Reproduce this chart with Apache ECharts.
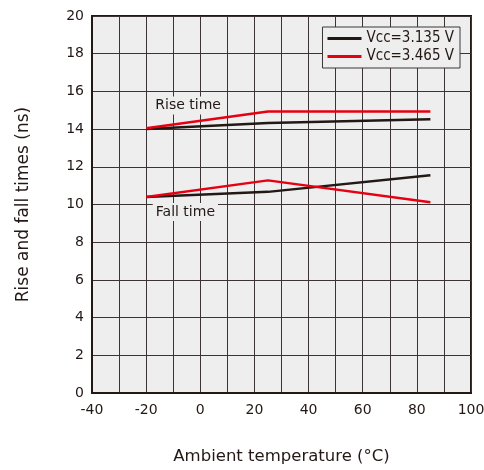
<!DOCTYPE html>
<html><head><meta charset="utf-8">
<script src="https://cdn.jsdelivr.net/npm/echarts@6/dist/echarts.min.js"></script>
<style>html,body{margin:0;padding:0;background:#fff}#c{width:484px;height:470px}</style>
</head><body><div id="c"></div>
<script>
const temps = [-20, 25, 85];
const riseLow = [14.0, 14.33, 14.52];
const riseHigh = [14.05, 14.93, 14.93];
const fallLow = [10.4, 10.67, 11.55];
const fallHigh = [10.4, 11.28, 10.12];
const seriesNames = ['Vcc=3.135 V', 'Vcc=3.465 V'];
const colors = ['#231815', '#e60012'];
const annotations = [
  {text: 'Rise time', x: -4.5, y: 15.25},
  {text: 'Fall time', x: -5.5, y: 9.6}
];
const FONT = 'DejaVu Sans';
const BG = '#eeeeee';
const zip = (xs, ys) => xs.map((x, i) => [x, ys[i]]);

function lineSeries(name, data, color, withMarks) {
  const s = {
    name, type: 'line', data, showSymbol: false, symbol: 'none',
    lineStyle: {color, width: 2.5}, itemStyle: {color}, z: 5,
    emphasis: {disabled: true}
  };
  if (withMarks) {
    s.markPoint = {
      symbol: 'rect', symbolSize: 1, itemStyle: {color: 'rgba(0,0,0,0)'},
      data: annotations.map(a => ({
        coord: [a.x, a.y],
        label: {show: true, position: 'inside', formatter: a.text, color: '#231815',
          fontFamily: FONT, fontSize: 14, backgroundColor: BG, padding: [2, 3]}
      })),
      z: 3
    };
  }
  return s;
}

const chart = echarts.init(document.getElementById('c'), null, {renderer: 'canvas'});
chart.setOption({
  animation: false,
  backgroundColor: '#fff',
  grid: {left: 92, right: 13, top: 16, bottom: 77, show: true, backgroundColor: BG,
    borderColor: '#231815', borderWidth: 2, containLabel: false, outerBoundsMode: 'none'},
  legend: {
    data: seriesNames, orient: 'vertical', right: 24, top: 27,
    backgroundColor: BG, borderColor: '#3a3636', borderWidth: 1,
    padding: [4, 6, 4, 5], itemGap: 3, itemWidth: 34, itemHeight: 12,
    textStyle: {fontFamily: 'DejaVu Sans Condensed', fontSize: 15, color: '#231815'},
    icon: 'path://M0,4.5 L34,4.5 L34,7.5 L0,7.5 Z'
  },
  xAxis: {
    type: 'value', min: -40, max: 100, interval: 10,
    name: 'Ambient temperature (°C)', nameLocation: 'middle', nameGap: 55,
    nameTextStyle: {fontFamily: FONT, fontSize: 16.5, color: '#231815'},
    axisLine: {show: true, onZero: false, lineStyle: {color: '#231815', width: 2}},
    axisTick: {show: false},
    axisLabel: {interval: 1, fontFamily: FONT, fontSize: 14, color: '#231815', margin: 10,
      formatter: v => (v % 20 === 0 ? String(v) : '')},
    splitLine: {show: true, lineStyle: {color: '#3c3434', width: 1}}
  },
  yAxis: {
    type: 'value', min: 0, max: 20, interval: 2,
    name: 'Rise and fall times (ns)', nameLocation: 'middle', nameGap: 60,
    nameTextStyle: {fontFamily: FONT, fontSize: 17, color: '#231815'},
    axisLine: {show: true, onZero: false, lineStyle: {color: '#231815', width: 2}},
    axisTick: {show: false},
    axisLabel: {fontFamily: FONT, fontSize: 14, color: '#231815', margin: 8},
    splitLine: {show: true, lineStyle: {color: '#3c3434', width: 1}}
  },
  series: [
    lineSeries(seriesNames[0], zip(temps, riseLow), colors[0], true),
    lineSeries(seriesNames[1], zip(temps, riseHigh), colors[1], false),
    lineSeries(seriesNames[0], zip(temps, fallLow), colors[0], false),
    lineSeries(seriesNames[1], zip(temps, fallHigh), colors[1], false)
  ]
});
</script></body></html>
